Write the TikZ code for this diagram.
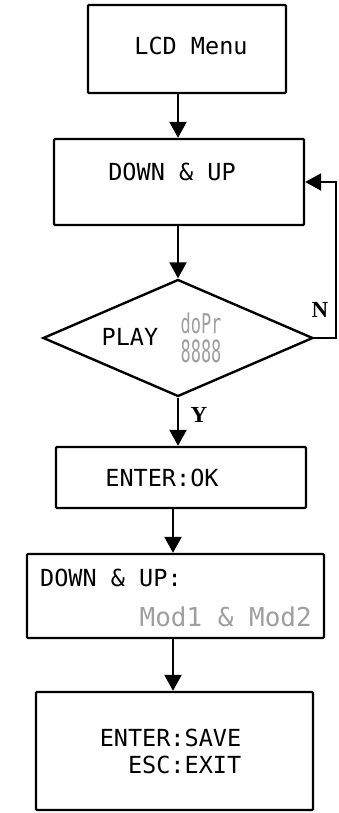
\documentclass[tikz,border=0pt]{standalone}
\usepackage{fontspec}
\setmonofont{DejaVu Sans Mono}
\newfontfamily\yesnofont{Liberation Serif}
\usetikzlibrary{arrows.meta,shapes.geometric}

\begin{document}
\begin{tikzpicture}[x=1pt,y=-1pt,
    box/.style={draw,line width=2.4pt,inner sep=0pt,rounded corners=1pt},
    flow/.style={line width=2.4pt,-{Triangle[width=17pt,length=16pt]}},
    txt/.style={font=\fontsize{23.5}{27}\selectfont\ttfamily,inner sep=0pt},
    lcdtxt/.style={font=\fontsize{26}{27}\selectfont\ttfamily,text=gray!75,inner sep=0pt},
    yesno/.style={font=\yesnofont\bfseries\fontsize{23}{23}\selectfont,inner sep=0pt}]
    \useasboundingbox (0,0) rectangle (338,813);

    \coordinate (axisa) at (178,0);
    \coordinate (axisb) at (173,0);
    \coordinate (loopx) at (336,0);

    % boxes
    \node[box,minimum width=198pt,minimum height=88pt] (lcd) at (187,49) {};
    \node[box,minimum width=250pt,minimum height=86pt] (down) at (179,182) {};
    \node[draw,line width=2.4pt,diamond,inner sep=0pt,minimum width=270pt,minimum height=117pt] (play) at (178,338) {};
    \node[box,minimum width=250pt,minimum height=61pt] (ok) at (181,477.5) {};
    \node[box,minimum width=297pt,minimum height=84pt] (mod) at (175.5,596) {};
    \node[box,minimum width=277pt,minimum height=118pt] (save) at (174.5,751) {};

    % texts
    \node[txt] (lcdtext) at (191,46) {LCD Menu};
    \node[txt] (downtext) at (172,172) {DOWN \& UP};
    \node[txt] (playtext) at (130,337) {PLAY};
    \node[inner sep=0pt,text=gray!75,align=center,font=\fontsize{17}{29}\selectfont\ttfamily] (playicon) at (201,338)
        {\scalebox{1}[1.6]{doPr}\\\scalebox{1}[1.8]{8888}};
    \node[txt] (oktext) at (162,478) {ENTER:OK};
    \node[txt,anchor=west] (modtext) at (40,578) {DOWN \& UP:};
    \node[lcdtxt,anchor=east] (modvalue) at (312,617) {Mod1 \& Mod2};
    \node[txt,align=right] (savetext) at (170.5,751.5) {ENTER:SAVE\\ESC:EXIT};

    % connectors
    \draw[flow] (lcd.south -| axisa) -- (down.north -| axisa);
    \draw[flow] (down.south -| axisa) -- (play.north);
    \draw[flow] (play.south) -- (ok.north -| axisa);
    \draw[flow] (ok.south -| axisb) -- (mod.north -| axisb);
    \draw[flow] (mod.south -| axisb) -- (save.north -| axisb);
    \draw[flow] (play.east) -- (play.east -| loopx) -- (down.east -| loopx) -- (down.east);
    \node[yesno] (nlab) at (320,310) {N};
    \node[yesno] (ylab) at (199,415) {Y};
\end{tikzpicture}
\end{document}
